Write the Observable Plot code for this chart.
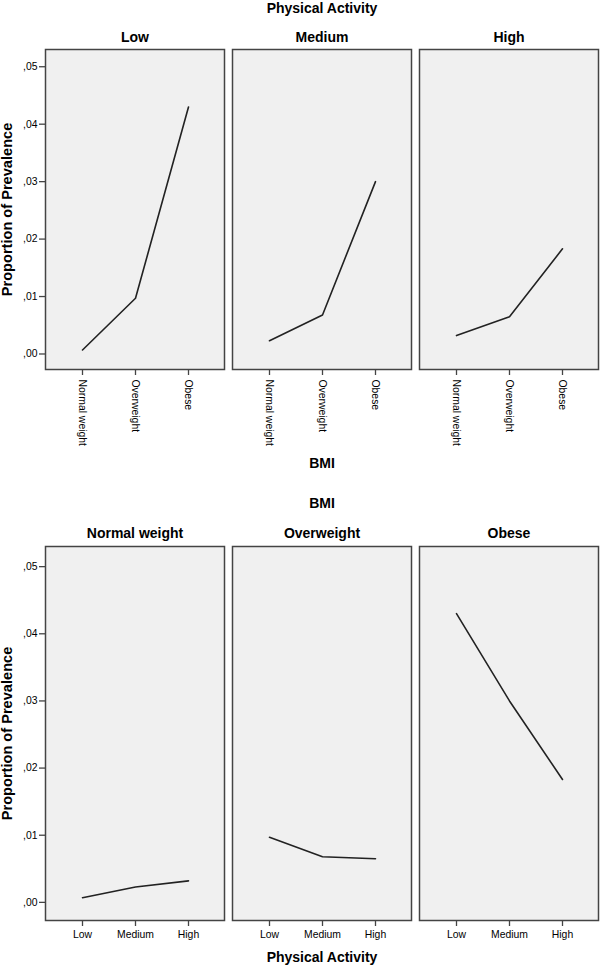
<!DOCTYPE html>
<html>
<head>
<meta charset="utf-8">
<script src="https://cdn.jsdelivr.net/npm/d3@7"></script>
<script src="https://cdn.jsdelivr.net/npm/@observablehq/plot@0.6"></script>
<style>
  body { margin: 0; background: #fff; }
  #chart svg { display: block; }
  g[aria-label="y-axis label"] text { font-weight: bold; font-size: 14.6px; }
</style>
</head>
<body>
<div id="chart"></div>
<script>
// ---- data ----
const bmiCategories = ["Normal weight", "Overweight", "Obese"];
const activityCategories = ["Low", "Medium", "High"];
// proportion of prevalence by BMI category, one array per physical activity level
const prevalenceLow = [0.0007, 0.0097, 0.0430];
const prevalenceMedium = [0.0023, 0.0068, 0.0300];
const prevalenceHigh = [0.0032, 0.0065, 0.0183];
const yTicks = [0, 0.01, 0.02, 0.03, 0.04, 0.05];
const yDomain = [-0.0027, 0.0530];

const seriesByActivity = [prevalenceLow, prevalenceMedium, prevalenceHigh];
const rows = [];
activityCategories.forEach((act, i) => {
  bmiCategories.forEach((bmi, j) => {
    rows.push({activity: act, bmi: bmi, value: seriesByActivity[i][j]});
  });
});

const fmt = d => "," + d3.format(".2f")(d).split(".")[1];
const font = "'Liberation Sans', Arial, Helvetica, sans-serif";

function makeChart(cfg) {
  return Plot.plot({
    width: 600,
    height: cfg.height,
    marginTop: cfg.marginTop,
    marginBottom: cfg.marginBottom,
    marginLeft: 45,
    marginRight: 2,
    style: {fontFamily: font, fontSize: "10.4px", color: "#000", background: "#fff"},
    fx: {domain: cfg.fxDomain, paddingInner: 0.043, paddingOuter: 0},
    x: {domain: cfg.xDomain, padding: 0.67},
    y: {domain: yDomain},
    marks: [
      Plot.frame({fill: "#f0f0f0", stroke: "#444", strokeWidth: 1.5}),
      Plot.axisFx({
        anchor: "top", label: cfg.fxTitle, labelAnchor: "center", labelOffset: cfg.topLabelOffset,
        tickSize: 0, tickPadding: cfg.topTickPadding, fontSize: 14, fontWeight: "bold"
      }),
      Plot.axisFx({
        anchor: "bottom", label: cfg.xTitle, labelAnchor: "center", labelOffset: cfg.bottomLabelOffset,
        tickSize: 0, tickFormat: () => "", fontSize: 14, fontWeight: "bold"
      }),
      Plot.axisX({
        tickSize: 6, tickPadding: cfg.xTickPadding, tickRotate: cfg.rotate, label: null,
        stroke: "#444", strokeWidth: 1.3
      }),
      Plot.axisY({
        ticks: yTicks, tickFormat: fmt, tickSize: 6, tickPadding: 2, stroke: "#444", strokeWidth: 1.3,
        label: "Proportion of Prevalence", labelAnchor: "center", labelOffset: 44, labelArrow: "none"
      }),
      Plot.line(rows, {fx: cfg.fxKey, x: cfg.xKey, y: "value", stroke: "#222", strokeWidth: 1.6})
    ]
  });
}

const chart1 = makeChart({
  height: 483, marginTop: 49, marginBottom: 114,
  fxKey: "activity", xKey: "bmi",
  fxDomain: activityCategories, xDomain: bmiCategories,
  fxTitle: "Physical Activity", xTitle: "BMI",
  topLabelOffset: 46, topTickPadding: 8, bottomLabelOffset: 98,
  xTickPadding: 4, rotate: 90
});
const chart2 = makeChart({
  height: 483, marginTop: 63, marginBottom: 46,
  fxKey: "bmi", xKey: "activity",
  fxDomain: bmiCategories, xDomain: activityCategories,
  fxTitle: "BMI", xTitle: "Physical Activity",
  topLabelOffset: 48, topTickPadding: 9, bottomLabelOffset: 41,
  xTickPadding: 4, rotate: 0
});
document.getElementById("chart").append(chart1, chart2);
</script>
</body>
</html>
